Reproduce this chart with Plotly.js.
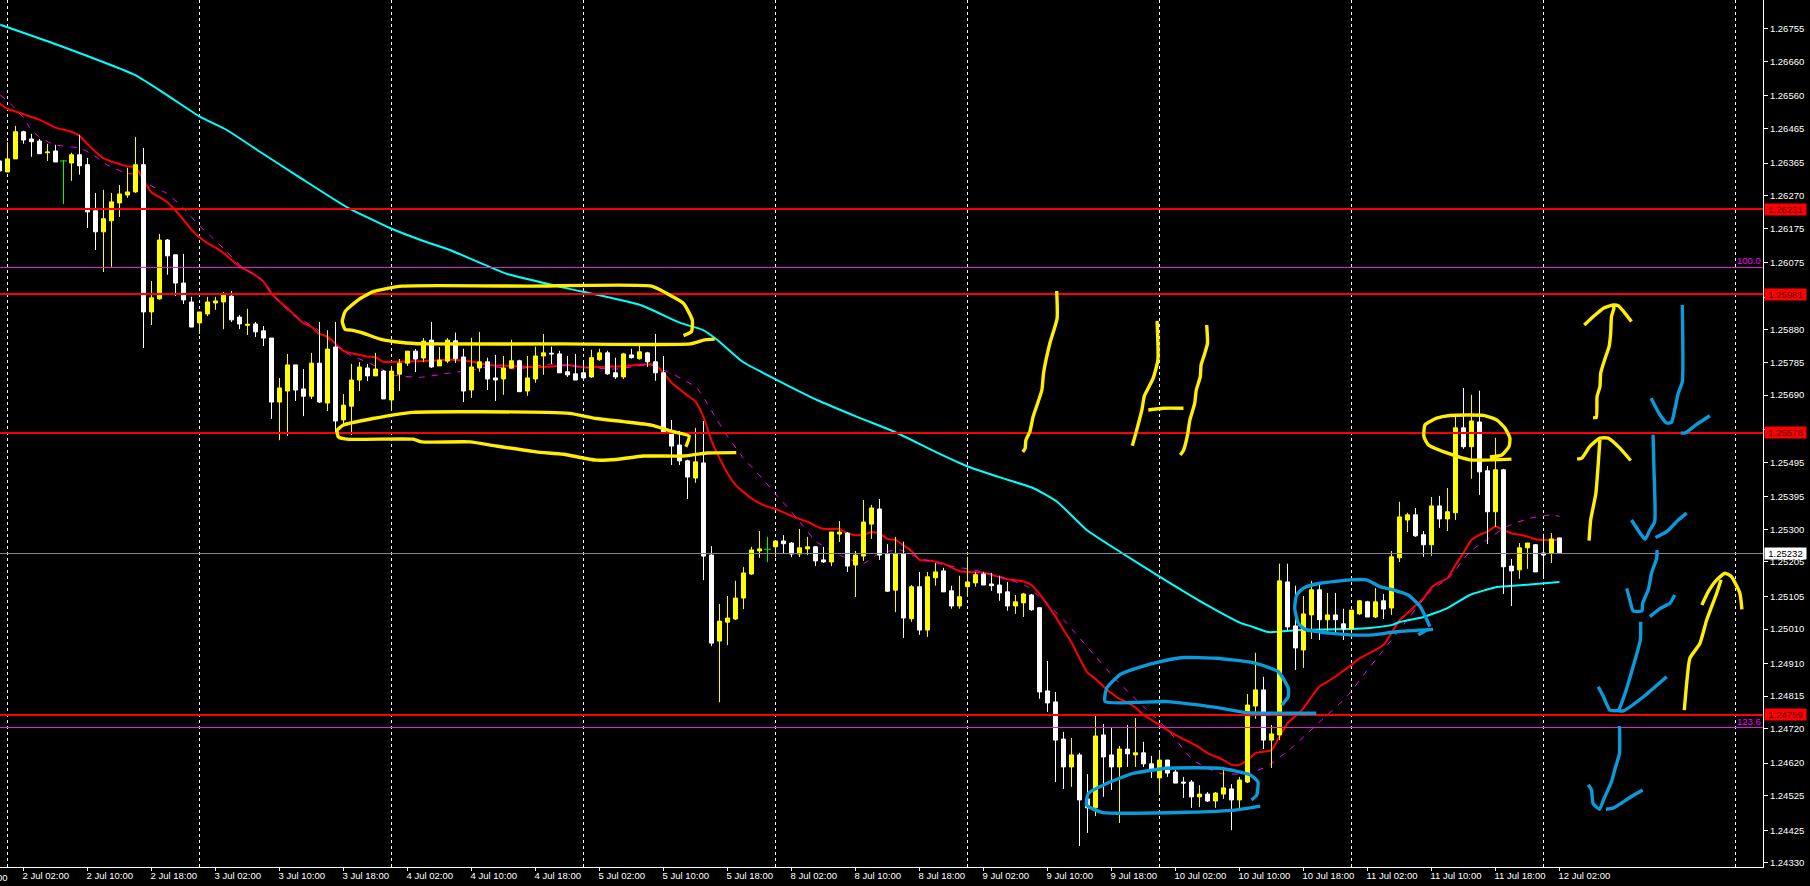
<!DOCTYPE html>
<html>
<head>
<meta charset="utf-8">
<script src="https://cdn.plot.ly/plotly-3.0.1.min.js"></script>
<style>html,body{margin:0;padding:0;background:#000;overflow:hidden}#chart{width:1810px;height:886px}</style>
</head>
<body>
<div id="chart"></div>
<script>
// Candle series: bars -1 .. 194
const candleOpen = [
1.26371,1.26339,1.26377,1.26456,1.26435,1.26429,1.26395,1.26400,1.26371,1.26365,
1.26389,1.26360,1.26226,1.26165,1.26197,1.26249,1.26272,1.26281,1.26360,1.25932,
1.25970,1.26141,1.26098,1.26016,1.25961,1.25900,1.25926,1.25958,1.25961,1.25978,
1.25917,1.25893,1.25897,1.25877,1.25856,1.25670,1.25702,1.25778,1.25708,1.25687,
1.25783,1.25667,1.25830,1.25618,1.25658,1.25734,1.25769,1.25746,1.25760,1.25676,
1.25751,1.25783,1.25818,1.25798,1.25850,1.25775,1.25789,1.25848,1.25801,1.25705,
1.25769,1.25787,1.25740,1.25737,1.25769,1.25790,1.25702,1.25737,1.25804,1.25812,
1.25810,1.25758,1.25752,1.25755,1.25743,1.25793,1.25813,1.25755,1.25743,1.25807,
1.25796,1.25813,1.25787,1.25755,1.25580,1.25545,1.25499,1.25449,1.25493,1.25225,
1.24975,1.25030,1.25039,1.25100,1.25170,1.25237,1.25242,1.25249,1.25266,1.25260,
1.25228,1.25243,1.25249,1.25211,1.25205,1.25286,1.25289,1.25196,1.25222,1.25315,
1.25359,1.25228,1.25123,1.25229,1.25040,1.25133,1.25007,1.25159,1.25179,1.25121,
1.25077,1.25133,1.25144,1.25170,1.25141,1.25138,1.25118,1.25077,1.25086,1.25109,
1.25072,1.24830,1.24798,1.24690,1.24609,1.24644,1.24516,1.24490,1.24702,1.24644,
1.24609,1.24661,1.24644,1.24650,1.24618,1.24577,1.24629,1.24594,1.24565,1.24565,
1.24522,1.24530,1.24510,1.24530,1.24545,1.24513,1.24565,1.24786,1.24833,1.24687,
1.24702,1.25147,1.25019,1.24949,1.25051,1.25124,1.25037,1.25051,1.25025,1.25010,
1.25054,1.25089,1.25045,1.25092,1.25071,1.25217,1.25327,1.25342,1.25284,1.25255,
1.25368,1.25330,1.25348,1.25595,1.25540,1.25612,1.25470,1.25351,1.25473,1.25193,
1.25182,1.25246,1.25255,1.25231,1.25231,1.25275];
const candleClose = [
1.26342,1.26377,1.26456,1.26432,1.26427,1.26392,1.26397,1.26368,1.26371,1.26389,
1.26357,1.26223,1.26165,1.26203,1.26252,1.26275,1.26281,1.26360,1.25932,1.25973,
1.26141,1.26095,1.26016,1.25967,1.25888,1.25932,1.25961,1.25964,1.25981,1.25909,
1.25897,1.25896,1.25874,1.25856,1.25670,1.25711,1.25778,1.25705,1.25687,1.25783,
1.25670,1.25824,1.25615,1.25661,1.25734,1.25772,1.25746,1.25766,1.25679,1.25760,
1.25783,1.25818,1.25795,1.25847,1.25772,1.25792,1.25850,1.25796,1.25702,1.25772,
1.25787,1.25737,1.25734,1.25769,1.25790,1.25700,1.25740,1.25804,1.25813,1.25810,
1.25755,1.25749,1.25734,1.25740,1.25799,1.25813,1.25752,1.25743,1.25810,1.25799,
1.25816,1.25787,1.25755,1.25580,1.25542,1.25499,1.25452,1.25496,1.25222,1.24969,
1.25033,1.25042,1.25100,1.25173,1.25240,1.25243,1.25242,1.25266,1.25258,1.25228,
1.25246,1.25249,1.25208,1.25205,1.25292,1.25292,1.25193,1.25225,1.25321,1.25362,
1.25225,1.25120,1.25228,1.25042,1.25133,1.25007,1.25162,1.25176,1.25118,1.25077,
1.25104,1.25147,1.25168,1.25138,1.25136,1.25115,1.25077,1.25089,1.25112,1.25066,
1.24827,1.24795,1.24687,1.24609,1.24644,1.24513,1.24490,1.24699,1.24638,1.24609,
1.24661,1.24647,1.24650,1.24618,1.24600,1.24629,1.24591,1.24562,1.24562,1.24522,
1.24530,1.24510,1.24533,1.24548,1.24513,1.24571,1.24789,1.24833,1.24687,1.24705,
1.25150,1.25016,1.24955,1.25054,1.25124,1.25037,1.25051,1.25037,1.25010,1.25065,
1.25092,1.25045,1.25089,1.25068,1.25220,1.25336,1.25342,1.25281,1.25255,1.25368,
1.25330,1.25351,1.25595,1.25540,1.25615,1.25467,1.25351,1.25473,1.25191,1.25179,
1.25246,1.25260,1.25176,1.25225,1.25272,1.25232];
const candleHigh = [
1.26371,1.26426,1.26473,1.26459,1.26450,1.26435,1.26421,1.26418,1.26374,1.26395,
1.26447,1.26380,1.26278,1.26287,1.26278,1.26301,1.26351,1.26441,1.26409,1.26022,
1.26159,1.26144,1.26098,1.26101,1.25976,1.25932,1.25976,1.25976,1.25990,1.25993,
1.25923,1.25941,1.25903,1.25891,1.25856,1.25740,1.25810,1.25778,1.25766,1.25813,
1.25903,1.25879,1.25903,1.25693,1.25781,1.25786,1.25781,1.25813,1.25763,1.25775,
1.25795,1.25818,1.25824,1.25856,1.25903,1.25830,1.25856,1.25872,1.25825,1.25857,
1.25874,1.25799,1.25807,1.25804,1.25851,1.25793,1.25804,1.25831,1.25868,1.25831,
1.25819,1.25804,1.25810,1.25787,1.25822,1.25825,1.25819,1.25799,1.25813,1.25825,
1.25833,1.25816,1.25868,1.25804,1.25618,1.25586,1.25502,1.25595,1.25615,1.25251,
1.25083,1.25106,1.25150,1.25190,1.25249,1.25295,1.25278,1.25269,1.25283,1.25263,
1.25301,1.25278,1.25251,1.25249,1.25292,1.25324,1.25292,1.25237,1.25385,1.25371,
1.25388,1.25257,1.25278,1.25264,1.25138,1.25176,1.25176,1.25202,1.25188,1.25136,
1.25165,1.25220,1.25176,1.25176,1.25173,1.25165,1.25147,1.25109,1.25115,1.25112,
1.25072,1.24917,1.24827,1.24711,1.24693,1.24650,1.24588,1.24760,1.24734,1.24722,
1.24670,1.24731,1.24751,1.24682,1.24641,1.24652,1.24629,1.24600,1.24580,1.24571,
1.24556,1.24536,1.24536,1.24609,1.24559,1.24580,1.24821,1.24941,1.24871,1.24731,
1.25200,1.25200,1.25136,1.25106,1.25150,1.25141,1.25115,1.25115,1.25069,1.25065,
1.25094,1.25092,1.25129,1.25112,1.25237,1.25380,1.25348,1.25362,1.25295,1.25394,
1.25397,1.25420,1.25627,1.25711,1.25691,1.25703,1.25484,1.25566,1.25476,1.25214,
1.25260,1.25260,1.25257,1.25287,1.25289,1.25275];
const candleLow = [
1.26342,1.26339,1.26377,1.26421,1.26383,1.26392,1.26371,1.26368,1.26246,1.26313,
1.26331,1.26176,1.26112,1.26048,1.26063,1.26208,1.26264,1.26278,1.25827,1.25894,
1.25967,1.26040,1.25978,1.25955,1.25888,1.25868,1.25920,1.25938,1.25882,1.25903,
1.25882,1.25865,1.25859,1.25833,1.25621,1.25559,1.25571,1.25673,1.25629,1.25679,
1.25667,1.25644,1.25577,1.25603,1.25574,1.25702,1.25731,1.25746,1.25679,1.25644,
1.25702,1.25775,1.25757,1.25786,1.25769,1.25775,1.25783,1.25784,1.25670,1.25682,
1.25758,1.25705,1.25673,1.25691,1.25767,1.25700,1.25688,1.25726,1.25749,1.25781,
1.25755,1.25743,1.25734,1.25732,1.25740,1.25790,1.25749,1.25737,1.25737,1.25796,
1.25793,1.25772,1.25732,1.25580,1.25487,1.25487,1.25388,1.25435,1.25152,1.24960,
1.24797,1.24963,1.25036,1.25068,1.25167,1.25217,1.25205,1.25219,1.25228,1.25219,
1.25219,1.25225,1.25193,1.25202,1.25193,1.25263,1.25176,1.25103,1.25208,1.25272,
1.25211,1.25118,1.25059,1.24984,1.25031,1.24993,1.24987,1.25136,1.25118,1.25069,
1.25069,1.25104,1.25133,1.25138,1.25121,1.25092,1.25063,1.25054,1.25045,1.25063,
1.24807,1.24769,1.24565,1.24545,1.24551,1.24379,1.24417,1.24466,1.24522,1.24542,
1.24446,1.24609,1.24609,1.24609,1.24577,1.24527,1.24580,1.24562,1.24519,1.24490,
1.24492,1.24507,1.24490,1.24516,1.24425,1.24487,1.24562,1.24749,1.24661,1.24606,
1.24687,1.25005,1.24891,1.24897,1.24981,1.24978,1.25005,1.24999,1.24978,1.25010,
1.25051,1.25045,1.25042,1.25039,1.25051,1.25205,1.25292,1.25278,1.25220,1.25223,
1.25304,1.25295,1.25327,1.25534,1.25447,1.25400,1.25257,1.25307,1.25112,1.25077,
1.25156,1.25185,1.25176,1.25156,1.25202,1.25232];

// Fast moving average (red)
const redX = [-1,0,1,2,4,6,8,9,10,11,12,13,14,15,16,17,18,19,20,21,22,23,24,25,26,27,28,29,30,31,32,33,34,35,36,37,38,39,40,41,42,43,44,45,46,47,49,53,55,
56,58,60,62,64,66,68,70,72,76,78,80,81,82,83,84,85,86,87,88,89,90,91,92,93,94,95,96,97,98,99,100,101,102,104,105,106,107,108,109,110,111,
112,113,114,115,116,117,118,119,121,122,124,125,127,128,129,130,131,132,133,134,135,136,137,138,139,140,141,142,143,144,145,146,147,148,149,150,151,152,153,154,155,156,157,158,159,160,161,162,163,164,165,166,167,
168,169,170,171,172,173,174,175,176,177,178,179,180,181,182,183,184,185,186,187,188,189,190,191,192,194];
const redY = [1.26539,1.26522,1.26515,1.26507,1.26491,1.26468,1.26456,1.26444,1.26420,1.26398,1.26379,1.26369,1.26362,1.26355,1.26353,1.26316,1.26279,1.26266,1.26251,1.26227,1.26200,1.26171,1.26149,1.26132,1.26119,1.26103,1.26083,1.26064,1.26052,1.26038,1.26020,1.25986,1.25962,1.25943,1.25920,1.25899,1.25889,1.25868,1.25860,1.25839,1.25819,1.25812,1.25807,1.25802,1.25800,1.25787,1.25787,1.25790,1.25794,
1.25792,1.25788,1.25778,1.25776,1.25773,1.25771,1.25773,1.25778,1.25771,1.25773,1.25776,1.25780,1.25779,1.25754,1.25727,1.25707,1.25689,1.25671,1.25626,1.25558,1.25507,1.25463,1.25429,1.25408,1.25390,1.25376,1.25366,1.25359,1.25349,1.25339,1.25330,1.25322,1.25310,1.25301,1.25301,1.25288,1.25283,1.25284,1.25292,1.25288,1.25272,1.25269,
1.25253,1.25237,1.25211,1.25209,1.25206,1.25200,1.25189,1.25178,1.25175,1.25174,1.25161,1.25155,1.25148,1.25138,1.25112,1.25080,1.25046,1.25008,1.24971,1.24925,1.24883,1.24865,1.24843,1.24823,1.24807,1.24796,1.24782,1.24760,1.24746,1.24731,1.24716,1.24702,1.24690,1.24678,1.24665,1.24649,1.24639,1.24629,1.24615,1.24615,1.24629,1.24649,1.24653,1.24658,1.24697,1.24736,1.24757,1.24780,1.24813,1.24843,1.24857,1.24872,1.24889,
1.24905,1.24925,1.24937,1.24949,1.24964,1.24998,1.25036,1.25056,1.25078,1.25099,1.25131,1.25146,1.25158,1.25196,1.25232,1.25269,1.25284,1.25293,1.25308,1.25298,1.25288,1.25284,1.25279,1.25271,1.25269,1.25269];

// Slow moving average (cyan)
const cyanX = [-0.9,6.3,15.9,19.9,24.1,27.4,31.6,36.6,42.4,47.8,51.9,55.3,62.4,69.7,79.1,84.1,86.9,88.7,91.9,96.2,101.2,106.2,111.2,116,120.2,125,128.2,131.2,134.9,139.1,144.1,149.9,154.1,155.7,157.6,161.6,167.8,170.3,173.1,174.1,177,180,182.8,186.2,189.4,194];
const cyanY = [1.26767,1.26708,1.26621,1.26563,1.26499,1.26461,1.26397,1.26322,1.26237,1.26176,1.26139,1.26112,1.26043,1.26002,1.25952,1.25900,1.25880,1.25851,1.25787,1.25734,1.25676,1.25627,1.25580,1.25525,1.25481,1.25444,1.25420,1.25380,1.25298,1.25234,1.25161,1.25080,1.25028,1.25016,1.25001,1.25007,1.25010,1.25013,1.25022,1.25031,1.25045,1.25071,1.25109,1.25132,1.25138,1.25147];

// Dashed magenta moving average
const dashX = [-0.9,0.3,2.2,2.8,3.9,5.9,9.1,10.7,12.4,14.9,16.6,17.8,19.9,21.8,24.1,25.7,27.4,29.5,31.6,33.7,35.7,38.6,40.7,42.8,45.3,48.2,51.6,54.9,
57.8,60.3,63.6,67.8,72,76.1,80.3,82.4,84.5,86.2,87.2,88.7,89.9,92,94.5,96.1,97.8,99.5,101.1,104,107,109,111.5,
114,117,120.7,124,127.4,129.9,132.4,135.3,138.6,142,144.9,148.2,151.6,155,157.4,160.7,163.6,167.4,
169.5,172,175.3,177.8,180.3,182.8,184.9,187.4,190.3,193.2,194];
const dashY = [1.26563,1.26539,1.26491,1.26466,1.26442,1.26418,1.26408,1.26389,1.26360,1.26335,1.26331,1.26301,1.26277,1.26238,1.26180,1.26146,1.26107,1.26059,1.26030,1.25967,1.25923,1.25884,1.25841,1.25807,1.25783,1.25749,1.25742,1.25753,
1.25762,1.25773,1.25766,1.25780,1.25771,1.25766,1.25778,1.25759,1.25735,1.25710,1.25676,1.25618,1.25574,1.25507,1.25444,1.25400,1.25356,1.25308,1.25264,1.25225,1.25201,1.25230,1.25240,
1.25216,1.25197,1.25182,1.25163,1.25134,1.25085,1.25027,1.24949,1.24862,1.24784,1.24721,1.24629,1.24590,1.24590,1.24610,1.24668,1.24731,1.24813,
1.24876,1.24949,1.25046,1.25119,1.25162,1.25235,1.25269,1.25308,1.25332,1.25342,1.25337];

// Horizontal levels
const redLevels = [1.26231,1.25984,1.25580,1.24760];
const redLevelLabels = ["1.26231","1.25981","1.25578","1.24759"];
const fibLevels = [1.260612,1.247236];
const fibLabels = ["100.0","123.6"];
const bidLevel = 1.252295;
const bidLabel = "1.25232";

// Axis labels
const priceTicks = ["1.26755","1.26660","1.26560","1.26465","1.26365","1.26270","1.26175","1.26075","1.25975","1.25880","1.25785","1.25690","1.25590","1.25495","1.25395","1.25300","1.25205","1.25105","1.25010","1.24910","1.24815","1.24720","1.24620","1.24525","1.24425","1.24330"];
const timeTickBars = [2,10,18,26,34,42,50,58,66,74,82,90,98,106,114,122,130,138,146,154,162,170,178,186,194];
const timeTickLabels = ["2 Jul 02:00","2 Jul 10:00","2 Jul 18:00","3 Jul 02:00","3 Jul 10:00","3 Jul 18:00","4 Jul 02:00","4 Jul 10:00","4 Jul 18:00","5 Jul 02:00","5 Jul 10:00","5 Jul 18:00","8 Jul 02:00","8 Jul 10:00","8 Jul 18:00","9 Jul 02:00","9 Jul 10:00","9 Jul 18:00","10 Jul 02:00","10 Jul 10:00","10 Jul 18:00","11 Jul 02:00","11 Jul 10:00","11 Jul 18:00","12 Jul 02:00"];
const gridBars = [0,24,48,72,96,120,144,168,192,216];
const clippedTimeBar = -6;
const clippedTimeLabel = "1 Jul 18:00";

// Hand-drawn strokes, in bar / price terms (null breaks a stroke)
const inkYellowX = [84.5,85.5,85.6,84.5,82.4,80.5,65.3,49.3,45.7,43.85,42.2,41.85,42.2,43,44.5,46.6,49.3,52,69.5,85.3,87,88.4,null,
84.8,85.2,83.2,80.5,77,73.6,70.3,67.4,50.7,45.7,42,41.2,41.35,42.4,50.7,51.8,57.8,61.1,66.1,69.5,73.6,76.1,79.5,84.5,87.4,91.1,null,
131.15,131.2,130.3,129.5,129.3,128.2,127.8,127.3,127.2,126.9,null,
143.7,143.8,143.2,142.1,141.8,141.1,140.6,null,
142.6,144.5,147,null,
149.9,150,149.6,149.2,149.1,148.6,148.4,147.8,147.5,147,146.6,null,
198.2,198.6,198.7,199.06,199.15,199.7,200.2,200.4,200.5,200.8,200.7,null,
197.1,198.2,199.5,200.7,201.35,202.2,203,null,
197.7,197.9,198.55,198.85,199.05,null,
196.2,196.8,197.8,199.05,200.1,201.55,202.9,null,
209.6,209.9,210.3,211.55,212.4,213.65,214.2,null,
211.8,212.6,213.65,214.7,215.5,216.55,216.8,null,
185.3,186.8,187.7,187.8,187.2,186.15,184.5,180.3,178.65,177.2,177.05,177.6,180.3,182.8,188];
const inkYellowY = [1.25863,1.25875,1.25908,1.25957,1.25986,1.26007,1.26007,1.26007,1.25991,1.25967,1.25933,1.25904,1.25881,1.25879,1.25870,1.25853,1.25843,1.25839,1.25839,1.25839,1.25850,1.25853,null,
1.25540,1.25571,1.25584,1.25603,1.25613,1.25622,1.25637,1.25640,1.25640,1.25622,1.25603,1.25588,1.25569,1.25562,1.25562,1.25554,1.25554,1.25542,1.25525,1.25518,1.25501,1.25503,1.25513,1.25513,1.25522,1.25523,null,
1.25993,1.25913,1.25841,1.25753,1.25705,1.25627,1.25584,1.25559,1.25535,1.25525,null,
1.25906,1.25792,1.25739,1.25687,1.25647,1.25584,1.25543,null,
1.25647,1.25652,1.25652,null,
1.25894,1.25841,1.25807,1.25778,1.25744,1.25705,1.25666,1.25618,1.25574,1.25530,1.25516,null,
1.25625,1.25625,1.25686,1.25715,1.25754,1.25797,1.25831,1.25870,1.25918,1.25943,1.25952,null,
1.25894,1.25918,1.25943,1.25952,1.25950,1.25928,1.25904,null,
1.25267,1.25327,1.25405,1.25492,1.25560,null,
1.25504,1.25507,1.25541,1.25565,1.25565,1.25536,1.25500,null,
1.24774,1.24852,1.24925,1.24968,1.25036,1.25114,1.25153,null,
1.25080,1.25119,1.25153,1.25172,1.25162,1.25114,1.25067,null,
1.25510,1.25516,1.25541,1.25565,1.25594,1.25618,1.25631,1.25631,1.25623,1.25604,1.25570,1.25546,1.25519,1.25502,1.25504];
const inkBlueX = [159.3,160.1,160.1,158.85,155.7,151.1,147,144.1,141.15,139.05,137.4,137.2,144.9,151.1,154.9,163.6,null,
155.5,156.15,156.3,155.3,151.6,144.9,140.7,137.4,135.1,134.9,136.8,147.4,153.65,156.6,null,
177.8,176.6,175.1,173.2,171.55,169.9,167.8,164.1,162,161.15,160.9,161.35,162.2,165.3,167.8,170.7,173.6,178.2,null,
176.35,177.6,null,
209.35,209.35,208.85,208.4,208,207.4,206.55,205.45,null,
209.15,209.7,211.1,212.8,null,
205.7,205.8,205.9,205.3,204.7,204.1,203,null,
206,207.4,208.85,209.9,null,
206.2,206.15,205.5,205.1,204.4,204.3,203.2,202.8,202.4,null,
205.3,206.6,207.8,208.4,null,
204.15,204.1,203.2,202.2,201.35,200.3,199.5,198.85,null,
201.35,202,204.5,207.4,null,
201.5,201.5,200.9,200.5,199.5,199,198.2,198,197.6,null,
199.8,200.7,201.8,203,204.4];
const inkBlueY = [1.24789,1.24814,1.24838,1.24886,1.24912,1.24925,1.24927,1.24915,1.24896,1.24877,1.24838,1.24799,1.24799,1.24782,1.24767,1.24765,null,
1.24513,1.24527,1.24566,1.24586,1.24605,1.24605,1.24590,1.24561,1.24532,1.24498,1.24477,1.24477,1.24484,1.24495,null,
1.25017,1.25075,1.25109,1.25124,1.25133,1.25153,1.25153,1.25143,1.25129,1.25109,1.25071,1.25027,1.25009,1.24998,1.24993,1.24993,1.25002,1.25009,null,
1.24993,1.25009,null,
1.25952,1.25729,1.25696,1.25647,1.25611,1.25609,1.25633,1.25681,null,
1.25580,1.25580,1.25604,1.25630,null,
1.25575,1.25482,1.25322,1.25298,1.25271,1.25288,1.25327,null,
1.25276,1.25293,1.25327,1.25347,null,
1.25240,1.25216,1.25172,1.25124,1.25085,1.25063,1.25063,1.25094,1.25128,null,
1.25046,1.25070,1.25085,1.25109,null,
1.25031,1.24978,1.24900,1.24823,1.24774,1.24774,1.24813,1.24842,null,
1.24772,1.24772,1.24813,1.24871,null,
1.24728,1.24649,1.24600,1.24566,1.24513,1.24486,1.24503,1.24542,1.24557,null,
1.24486,1.24489,1.24505,1.24523,1.24542];

const barRange = [-0.9375, 219.44];
const priceRange = [1.24318, 1.26839];
const candleBars = candleOpen.map((_, i) => i - 1);
const isFlat = candleOpen.map((o, i) => o === candleClose[i]);
const pick = (arr, flat) => arr.filter((_, i) => isFlat[i] === flat);
const smooth = (color, width, extra) => Object.assign({color:color, width:width, shape:'spline', smoothing:0.5}, extra || {});

const uiFont = '"Liberation Sans", Arial, sans-serif';
const data = [
  {type:'scatter', mode:'lines', x:redX, y:redY, line:smooth('#FF0000', 2), hoverinfo:'skip'},
  {type:'scatter', mode:'lines', x:dashX, y:dashY, line:smooth('#FF00FF', 1, {dash:'6px,7px'}), hoverinfo:'skip'},
  {type:'scatter', mode:'lines', x:cyanX, y:cyanY, line:smooth('#00FFFF', 2), hoverinfo:'skip'},
  {type:'candlestick', xaxis:'x2', yaxis:'y2', x:pick(candleBars,false), open:pick(candleOpen,false), high:pick(candleHigh,false), low:pick(candleLow,false), close:pick(candleClose,false),
    increasing:{line:{color:'#FFFF00', width:1}, fillcolor:'#FFFF00'},
    decreasing:{line:{color:'#FFFFFF', width:1}, fillcolor:'#FFFFFF'},
    whiskerwidth:0, hoverinfo:'skip'},
  {type:'scatter', mode:'markers', xaxis:'x2', yaxis:'y2', x:pick(candleBars,true), y:pick(candleClose,true),
    marker:{symbol:'line-ew', size:5, line:{color:'#00FF00', width:1}},
    error_y:{type:'data', symmetric:false, array:pick(candleHigh,true).map((h,i)=>h-pick(candleClose,true)[i]), arrayminus:pick(candleLow,true).map((l,i)=>pick(candleClose,true)[i]-l), color:'#00FF00', thickness:1, width:0},
    hoverinfo:'skip'},
  ...redLevels.map(v => ({type:'scatter', mode:'lines', xaxis:'x3', yaxis:'y3', x:barRange, y:[v,v], line:{color:'#FF0000', width:2}, hoverinfo:'skip'})),
  ...fibLevels.map(v => ({type:'scatter', mode:'lines', xaxis:'x3', yaxis:'y3', x:barRange, y:[v,v], line:{color:'#E020D0', width:1}, hoverinfo:'skip'})),
  {type:'scatter', mode:'lines', xaxis:'x3', yaxis:'y3', x:barRange, y:[bidLevel,bidLevel], line:{color:'#808890', width:1}, hoverinfo:'skip'},
  {type:'scatter', mode:'lines', xaxis:'x3', yaxis:'y3', x:inkYellowX, y:inkYellowY, connectgaps:false, line:smooth('#FFEE00', 3.4), hoverinfo:'skip'},
  {type:'scatter', mode:'lines', xaxis:'x3', yaxis:'y3', x:inkBlueX, y:inkBlueY, connectgaps:false, line:smooth('#0A9BDC', 3.4), hoverinfo:'skip'}
];

const tag = (v, text, bg, fg) => ({xref:'paper', x:1, xanchor:'left', xshift:1, yref:'y', y:v, yanchor:'middle', text:text, showarrow:false,
  bgcolor:bg, width:41, height:11, align:'center', borderpad:0, font:{family:uiFont, size:9.5, color:fg}});

const annotations = [
  ...redLevels.map((v,i) => tag(v, redLevelLabels[i], '#FF0000', '#5A0000')),
  tag(bidLevel, bidLabel, '#FFFFFF', '#000000'),
  ...fibLevels.map((v,i) => ({xref:'paper', x:1, xanchor:'right', xshift:-1, yref:'y', y:v, yanchor:'bottom', text:fibLabels[i], showarrow:false, borderpad:0, font:{family:uiFont, size:9.5, color:'#FF00FF'}})),
  {xref:'paper', x:(clippedTimeBar - barRange[0]) / (barRange[1] - barRange[0]), xanchor:'left', yref:'paper', y:0, yanchor:'top', yshift:-4, text:clippedTimeLabel, showarrow:false, borderpad:0, font:{family:uiFont, size:9.5, color:'#FFF'}}
];

const hiddenAxis = (over) => ({overlaying:over, visible:false, fixedrange:true});
const layout = {
  width:1810, height:886, margin:{l:0, r:47, t:0, b:19, pad:0},
  paper_bgcolor:'#000', plot_bgcolor:'#000', showlegend:false, boxgap:0.5, boxgroupgap:0, dragmode:false,
  xaxis:{range:barRange, tickmode:'array', tickvals:timeTickBars, ticktext:timeTickLabels, ticks:'outside', ticklen:3, tickcolor:'#FFF', tickwidth:1,
    ticklabelposition:'outside right', ticklabelshift:-2, tickfont:{family:uiFont, size:9.5, color:'#FFF'}, tickangle:0,
    showgrid:false, zeroline:false, showline:true, linecolor:'#FFF', linewidth:1,
    minor:{tickmode:'array', tickvals:gridBars, showgrid:true, gridcolor:'#FFF', griddash:'3px,3px', gridwidth:1, ticks:''}},
  yaxis:{range:priceRange, side:'right', tickmode:'array', tickvals:priceTicks.map(Number), ticktext:priceTicks, ticks:'outside', ticklen:4, tickcolor:'#FFF', tickwidth:1,
    tickfont:{family:uiFont, size:9.5, color:'#FFF'}, showgrid:false, zeroline:false, showline:true, linecolor:'#FFF', linewidth:1},
  xaxis2:Object.assign(hiddenAxis('x'), {range:barRange, anchor:'y2', rangeslider:{visible:false}}),
  yaxis2:Object.assign(hiddenAxis('y'), {range:priceRange, anchor:'x2'}),
  xaxis3:Object.assign(hiddenAxis('x'), {range:barRange, anchor:'y3'}),
  yaxis3:Object.assign(hiddenAxis('y'), {range:priceRange, anchor:'x3'}),
  annotations:annotations
};
Plotly.newPlot('chart', data, layout, {staticPlot:true, displayModeBar:false});
</script>
</body>
</html>
